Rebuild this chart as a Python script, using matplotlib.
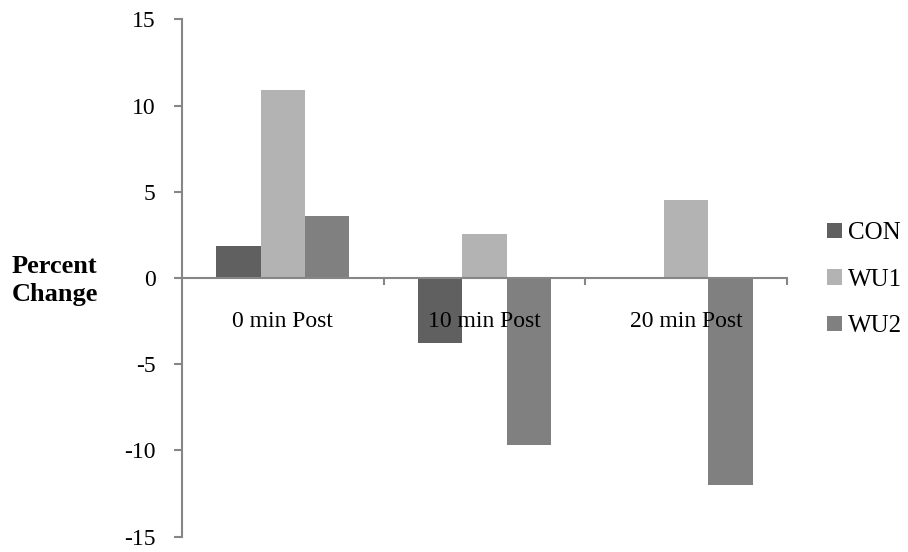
import numpy as np
import matplotlib
matplotlib.use("Agg")
import matplotlib.pyplot as plt
from matplotlib.patches import Patch

plt.rcParams['font.family'] = ['Liberation Serif', 'DejaVu Serif']

# Data
categories = ['0 min Post', '10 min Post', '20 min Post']
series_names = ['CON', 'WU1', 'WU2']
con = [1.83, -3.75, 0.0]
wu1 = [10.93, 2.55, 4.53]
wu2 = [3.58, -9.7, -12.0]
colors = ['#606060', '#b3b3b3', '#808080']

fig = plt.figure(figsize=(9.08, 5.52), dpi=100)
ax = fig.add_axes([0.2004, 0.0277, 0.6663, 0.9373])

x = np.arange(len(categories))
width = 0.22
for i, (vals, name, col) in enumerate(zip([con, wu1, wu2], series_names, colors)):
    ax.bar(x + (i - 1) * width, vals, width, color=col, label=name, zorder=2)

ax.set_xlim(-0.5, 2.5)
ax.set_ylim(-15, 15)
ax.set_yticks([-15, -10, -5, 0, 5, 10, 15])
ax.set_yticklabels(['-15', '-10', '-5', '0', '5', '10', '15'])

axis_gray = '#868686'
for s in ['top', 'right']:
    ax.spines[s].set_visible(False)
ax.spines['left'].set_color(axis_gray)
ax.spines['left'].set_linewidth(1.5)
ax.spines['bottom'].set_position(('data', 0))
ax.spines['bottom'].set_color(axis_gray)
ax.spines['bottom'].set_linewidth(1.5)
ax.spines['bottom'].set_zorder(3)

ax.tick_params(axis='y', direction='out', length=6, width=1.5, color=axis_gray,
               labelsize=17, pad=13)
ax.set_xticks([0.5, 1.5, 2.5])
ax.set_xticklabels([])
ax.tick_params(axis='x', direction='out', length=5, width=1.5, color=axis_gray)

# category labels sit just under the zero line, over the bars
for xi, cat in zip(x, categories):
    ax.text(xi, -2.5, cat, ha='center', va='center', fontsize=17, zorder=5)

fig.text(0.06, 0.492, 'Percent\nChange', ha='center', va='center',
         fontsize=19, fontweight='bold', linespacing=1.3)

handles = [Patch(facecolor=c, edgecolor='none') for c in colors]
ax.legend(handles, series_names, loc='center left', bbox_to_anchor=(0.911, 0.493),
          bbox_transform=fig.transFigure, frameon=False, fontsize=18,
          handlelength=0.6, handleheight=0.6, handletextpad=0.25,
          labelspacing=0.98, borderaxespad=0, borderpad=0)

fig.savefig('out.png', dpi=100)
